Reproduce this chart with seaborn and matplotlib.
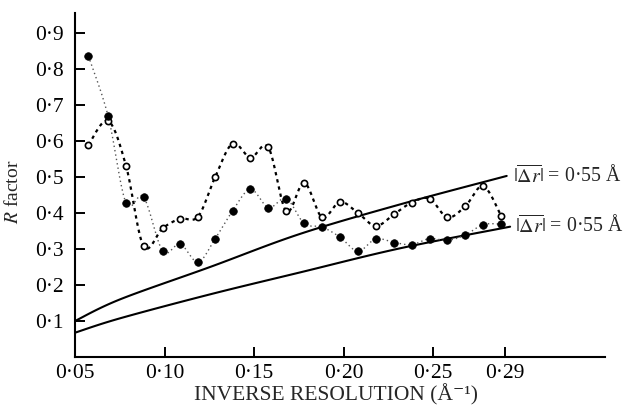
import numpy as np
import pandas as pd
import matplotlib
matplotlib.use("Agg")
import matplotlib.pyplot as plt
import seaborn as sns

# ---- data ----
inv_res = [0.0575, 0.0685, 0.0785, 0.0883, 0.0990, 0.1087, 0.1187, 0.1282,
           0.1380, 0.1480, 0.1580, 0.1680, 0.1780, 0.1880, 0.1980, 0.2080,
           0.2180, 0.2283, 0.2380, 0.2480, 0.2580, 0.2680, 0.2780, 0.2880]
r_filled = [0.836, 0.669, 0.428, 0.444, 0.294, 0.314, 0.264, 0.328,
            0.406, 0.466, 0.415, 0.440, 0.371, 0.361, 0.333, 0.294,
            0.328, 0.318, 0.312, 0.329, 0.324, 0.339, 0.368, 0.369]
r_open = [0.589, 0.656, 0.531, 0.308, 0.358, 0.384, 0.390, 0.499,
          0.593, 0.554, 0.582, 0.405, 0.484, 0.388, 0.431, 0.400,
          0.364, 0.397, 0.429, 0.440, 0.388, 0.419, 0.475, 0.392]

upper_x = [0.050, 0.0751, 0.1254, 0.1757, 0.2316, 0.2911]
upper_y = [0.100, 0.160, 0.250, 0.342, 0.424, 0.503]
lower_x = [0.050, 0.0751, 0.1254, 0.1757, 0.2316, 0.2930]
lower_y = [0.0675, 0.1074, 0.174, 0.235, 0.302, 0.362]

x_ticks = [0.05, 0.10, 0.15, 0.20, 0.25, 0.29]
x_tick_labels = ["0·05", "0·10", "0·15", "0·20", "0·25", "0·29"]
y_ticks = [0.1, 0.2, 0.3, 0.4, 0.5, 0.6, 0.7, 0.8, 0.9]
y_tick_labels = ["0·1", "0·2", "0·3", "0·4", "0·5", "0·6", "0·7", "0·8", "0·9"]
curve_label = r"$|\overline{\mathit{\Delta}r}|$ = 0·55 Å"


def smooth(xs, ys, n=20):
    """Catmull-Rom rendering of a curve through the given points."""
    P = np.column_stack([xs, ys]).astype(float)
    P = np.vstack([P[0], P, P[-1]])
    out = []
    t = np.linspace(0, 1, n, endpoint=False)[:, None]
    for i in range(1, len(P) - 2):
        p0, p1, p2, p3 = P[i - 1], P[i], P[i + 1], P[i + 2]
        seg = 0.5 * ((2 * p1) + (-p0 + p2) * t +
                     (2 * p0 - 5 * p1 + 4 * p2 - p3) * t ** 2 +
                     (-p0 + 3 * p1 - 3 * p2 + p3) * t ** 3)
        out.append(seg)
    out.append(P[-2][None, :])
    out = np.vstack(out)
    return out[:, 0], out[:, 1]


sns.set_theme(style="ticks")
plt.rcParams["font.family"] = ["Liberation Serif", "DejaVu Serif"]
plt.rcParams["mathtext.fontset"] = "stix"

fig = plt.figure(figsize=(6.28, 4.09), dpi=100)
ax = fig.add_axes([75 / 628, 1 - 357 / 409, 530 / 628, (357 - 12.5) / 409])

# solid reference curves
for xs, ys in [(upper_x, upper_y), (lower_x, lower_y)]:
    sx, sy = smooth(xs, ys)
    sns.lineplot(x=sx, y=sy, ax=ax, color="black", lw=1.5, sort=False,
                 estimator=None)

# smoothed dotted connecting curves
sx, sy = smooth(inv_res, r_filled)
sns.lineplot(x=sx, y=sy, ax=ax, color="#555555", lw=1.0, sort=False,
             estimator=None, linestyle=(0, (1, 2.2)))
sx, sy = smooth(inv_res, r_open)
sns.lineplot(x=sx, y=sy, ax=ax, color="black", lw=1.6, sort=False,
             estimator=None, linestyle=(0, (1.5, 1.8)))

sns.scatterplot(x=inv_res, y=r_open, ax=ax, marker="o", s=20,
                facecolor="white", edgecolor="black", linewidth=1.2, zorder=4)
sns.scatterplot(x=inv_res, y=r_filled, ax=ax, marker="o", s=30,
                color="black", edgecolor="black", linewidth=0.5, zorder=5)

ax.set_xlim(0.05, 0.346)
ax.set_ylim(0, 0.957)
ax.set_xticks(x_ticks)
ax.set_xticklabels(x_tick_labels, fontsize=15.5)
ax.set_yticks(y_ticks)
ax.set_yticklabels(y_tick_labels, fontsize=15.5)
ax.tick_params(direction="in", length=7, width=1.4, colors="black")
ax.tick_params(axis="x", pad=5)
ax.tick_params(axis="y", pad=8)
for s in ["top", "right"]:
    ax.spines[s].set_visible(False)
for s in ["left", "bottom"]:
    ax.spines[s].set_linewidth(1.5)
    ax.spines[s].set_color("black")

ax.set_xlabel("INVERSE RESOLUTION (Å⁻¹)", fontsize=15.5)
ax.xaxis.label.set_va("center")
ax.xaxis.set_label_coords((336 - 75) / 530, (357 - 395) / 344.5)
ax.set_ylabel("$R$ factor", fontsize=14)
ax.yaxis.label.set_va("center")
ax.yaxis.set_label_coords((13 - 75) / 530, (357 - 192) / 344.5)

ax.text(0.2945, upper_y[-1], curve_label, fontsize=14.3, va="center",
        ha="left", clip_on=False)
ax.text(0.2955, lower_y[-1], curve_label, fontsize=14.3, va="center",
        ha="left", clip_on=False)

fig.savefig("out.png", dpi=100)
